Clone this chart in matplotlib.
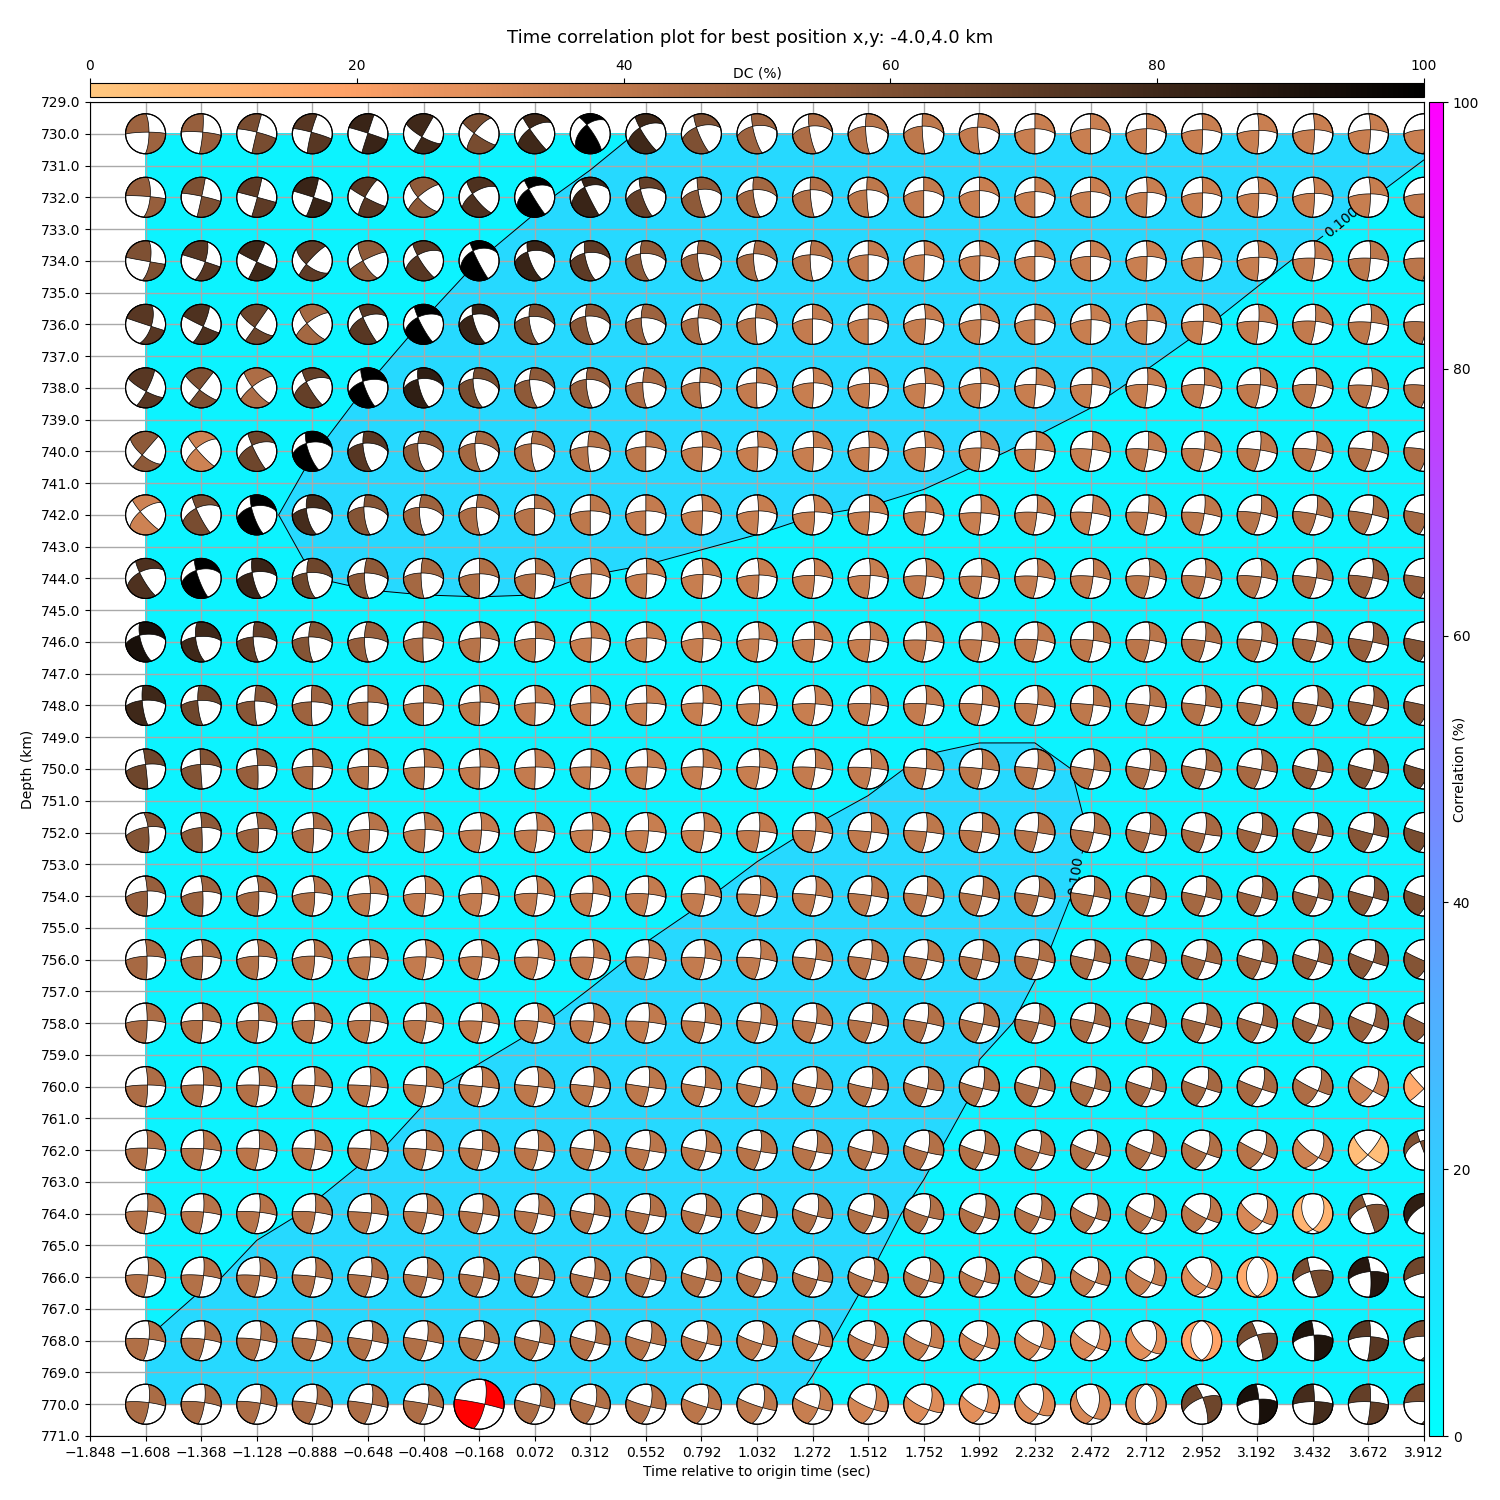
import numpy as np
import matplotlib
matplotlib.use("Agg")
import matplotlib.pyplot as plt
from matplotlib.patches import Ellipse, Polygon

# time shift columns and depth rows of the grid search
times = [-1.608, -1.368, -1.128, -0.888, -0.648, -0.408, -0.168, 0.072, 0.312, 0.552, 0.792, 1.032,
         1.272, 1.512, 1.752, 1.992, 2.232, 2.472, 2.712, 2.952, 3.192, 3.432, 3.672, 3.912]
depths = [730, 732, 734, 736, 738, 740, 742, 744, 746, 748, 750, 752, 754, 756, 758, 760, 762, 764, 766, 768, 770]
best_row, best_col = 20, 6

# where the two nodal lines cross inside each ball, in percent of the radius
null_x = [
    [17, 8, 0, -5, 0, -8, -25, -25, -17, -30, -25, -22, -18, -13, -8, -8, 0, 0, 3, 5, 8, 8, 10, 12],
    [23, 3, 3, 6, -15, -28, -33, -30, -28, -27, -17, -20, -12, -7, 0, 0, 0, 0, 5, 5, 8, 8, 10, 10],
    [23, 20, 0, -30, -25, -30, -30, -35, -28, -27, -20, -17, -12, 0, 3, 3, 0, 0, 5, 8, 8, 10, 10, 12],
    [28, 10, -10, -27, -25, -28, -33, -28, -23, -23, -17, -7, 0, 0, 8, 8, 0, 3, 5, 8, 8, 13, 13, 13],
    [3, -8, -23, -30, -25, -28, -30, -25, -20, -15, -8, -3, 5, 7, 8, 8, 5, 7, 8, 13, 15, 17, 17, 18],
    [-17, -25, -23, -30, -25, -28, -20, -17, -12, 0, 5, 5, 5, 5, 8, 8, 5, 7, 10, 13, 15, 17, 17, 18],
    [-27, -25, -27, -30, -20, -20, -13, 0, 0, 0, 5, 7, 10, 7, 10, 8, 10, 7, 10, 13, 17, 17, 18, 18],
    [-30, -25, -23, -27, -17, -12, 3, 5, 5, 5, 8, 10, 10, 10, 12, 12, 13, 13, 17, 18, 20, 17, 20, 20],
    [-30, -28, -18, -18, -17, -3, 7, 5, 5, 5, 8, 10, 10, 10, 12, 12, 13, 13, 17, 18, 20, 17, 20, 20],
    [-17, -17, -10, -5, 0, 0, 5, 3, 3, 5, 8, 13, 13, 12, 12, 13, 13, 13, 17, 18, 20, 22, 22, 22],
    [0, -3, 5, 3, 3, 5, 5, 3, 3, 7, 8, 13, 13, 15, 12, 13, 13, 15, 17, 18, 20, 22, 22, 22],
    [12, 3, 7, 7, 8, 8, 12, 12, 13, 13, 13, 13, 15, 15, 15, 13, 13, 15, 17, 18, 20, 22, 22, 22],
    [8, 8, 10, 12, 12, 10, 15, 13, 13, 13, 17, 17, 15, 15, 15, 13, 17, 15, 17, 18, 20, 22, 22, 22],
    [7, 8, 10, 12, 12, 13, 15, 17, 17, 15, 17, 17, 15, 15, 17, 13, 17, 15, 17, 18, 20, 22, 22, 22],
    [8, 8, 10, 12, 12, 13, 15, 17, 17, 15, 17, 17, 18, 18, 17, 17, 18, 15, 17, 18, 20, 22, 22, 25],
    [10, 12, 12, 12, 13, 13, 15, 17, 17, 15, 17, 18, 18, 18, 17, 17, 18, 18, 22, 22, 23, 25, 22, 0],
    [10, 12, 12, 12, 13, 13, 15, 17, 17, 18, 20, 18, 18, 18, 20, 20, 22, 22, 22, 25, 28, 28, -3, -20],
    [10, 12, 15, 15, 17, 17, 17, 17, 17, 18, 20, 22, 22, 23, 23, 22, 22, 23, 25, 25, 25, 0, -12, 50],
    [12, 12, 15, 15, 17, 17, 20, 20, 18, 18, 20, 22, 23, 23, 23, 22, 22, 23, 25, 25, 0, -13, 10, 45],
    [17, 17, 18, 20, 20, 18, 23, 22, 22, 22, 25, 25, 27, 27, 25, 25, 25, 27, 27, 0, 0, 5, 10, 40],
    [17, 17, 18, 20, 20, 22, 23, 25, 25, 23, 28, 28, 27, 27, 25, 25, 18, 13, 0, 5, 8, 8, 10, 30],
]
null_y = [
    [8, 8, 8, 8, 3, -15, 3, 25, 45, 30, 33, 37, 37, 37, 38, 33, 25, 25, 25, 20, 17, 20, 20, 20],
    [3, 5, 0, 0, 0, 0, 18, 42, 50, 40, 37, 37, 37, 37, 33, 33, 28, 28, 25, 22, 20, 20, 17, 17],
    [-5, -5, -5, -17, 0, 27, 50, 45, 38, 35, 35, 35, 30, 30, 30, 25, 22, 22, 22, 18, 18, 13, 13, 13],
    [-10, -10, -15, 5, 35, 35, 47, 38, 40, 32, 32, 32, 27, 27, 27, 23, 23, 23, 20, 15, 15, 15, 10, 10],
    [-18, -10, 5, 30, 32, 43, 45, 40, 42, 28, 28, 25, 25, 22, 22, 22, 17, 17, 17, 15, 15, 15, 10, 10],
    [-18, 15, 30, 40, 40, 40, 40, 38, 23, 23, 22, 22, 20, 20, 20, 17, 10, 10, 10, 10, 7, 7, 7, 7],
    [17, 33, 40, 33, 40, 38, 38, 33, 20, 20, 20, 20, 15, 15, 15, 10, 12, 10, 10, 7, 7, 3, 2, 0],
    [30, 40, 30, 28, 27, 27, 23, 23, 23, 23, 20, 17, 15, 15, 12, 10, 10, 10, 10, 7, 7, 3, 3, 0],
    [33, 25, 25, 25, 22, 20, 20, 17, 20, 20, 17, 15, 13, 12, 8, 8, 10, 8, 8, 5, 5, 3, 0, -3],
    [25, 25, 22, 18, 17, 13, 17, 13, 13, 12, 12, 8, 8, 8, 8, 5, 5, 3, 0, 0, 0, 0, 0, -3],
    [23, 23, 18, 13, 13, 10, 10, 10, 10, 10, 10, 10, 7, 5, 2, 2, 2, -3, -3, -3, -3, -7, -7, -10],
    [28, 25, 20, 20, 15, 15, 12, 12, 12, 8, 8, 7, 7, 3, 3, 3, 0, 0, -5, -8, -8, -8, -8, -10],
    [25, 22, 22, 17, 13, 13, 13, 13, 13, 10, 8, 5, 5, 2, 2, 0, 0, 0, -3, -3, -7, -7, -7, -10],
    [17, 17, 17, 17, 13, 13, 13, 10, 10, 10, 8, 5, 2, 2, 0, 0, 0, -3, -3, -7, -8, -8, -12, -15],
    [13, 13, 13, 13, 12, 10, 8, 8, 7, 5, 3, 0, 0, 0, 0, -5, 0, 0, -3, -5, -8, -13, -12, -15],
    [8, 8, 7, 5, 3, 3, 0, 0, 0, -3, -3, -5, -7, -8, -10, -10, -7, -8, -10, -10, -13, -20, -22, -10],
    [10, 7, 7, 5, 5, 3, 2, 0, 0, -3, -5, -7, -8, -10, -12, -13, -13, -15, -15, -18, -18, -37, -23, 43],
    [12, 8, 7, 7, 3, 3, 0, 0, -3, -5, -8, -10, -13, -13, -17, -17, -18, -22, -22, -25, -38, -78, 37, 55],
    [10, 8, 7, 3, 3, 0, 0, -5, -5, -8, -10, -13, -13, -17, -18, -20, -22, -25, -27, -47, -95, 28, 28, 25],
    [8, 7, 5, 3, 0, 0, 0, -7, -8, -10, -13, -17, -18, -22, -25, -27, -30, -33, -55, -97, 28, 28, 20, 20],
    [8, 8, 5, 3, 0, 0, 0, -7, -10, -13, -15, -17, -20, -25, -28, -33, -48, -67, -98, 33, 25, 13, 12, 10],
]
# azimuth (deg, clockwise from north) of the nodal arm that opens the filled quadrant
arm_az = [
    [-90, -85, -76, -75, -72, -60, -54, -35, -38, -30, -20, -12, -8, -2, -2, 0, 0, 0, 0, 0, 0, 0, 0, 0],
    [-85, -78, -75, -72, -62, -42, -35, -30, -25, -15, -10, -5, -3, -1, 0, 0, 0, 0, 0, 0, 0, 0, 0, 0],
    [-80, -72, -65, -50, -28, -30, -25, -15, -10, -5, -3, 0, 0, 0, 0, 0, 0, 0, 0, 0, 0, 3, 3, 3],
    [-72, -65, -55, -38, -25, -25, -12, -5, -5, -2, 0, 0, 0, 0, 0, 0, 0, 0, 0, 3, 3, 5, 5, 6],
    [-62, -52, -38, -28, -18, -10, -3, -3, -2, 0, 0, 0, 0, 0, 0, 0, 3, 3, 3, 5, 5, 6, 7, 8],
    [-50, -40, -25, -15, -5, 0, 0, 0, 0, 0, 0, 0, 0, 0, 0, 2, 3, 6, 6, 7, 8, 9, 10, 11],
    [-40, -25, -15, -7, -2, 0, 0, 0, 0, 0, 0, 0, 0, 2, 3, 3, 5, 7, 7, 8, 10, 11, 12, 13],
    [-27, -17, -10, -5, 0, 0, 0, 0, 0, 0, 0, 0, 2, 2, 4, 4, 5, 6, 6, 8, 8, 9, 10, 11],
    [-12, -7, -3, 0, 0, 0, 0, 0, 0, 0, 0, 2, 2, 3, 4, 5, 6, 6, 6, 8, 9, 10, 11, 12],
    [-5, -3, 0, 0, 0, 0, 0, 0, 0, 0, 2, 2, 3, 4, 4, 6, 6, 6, 7, 8, 10, 10, 12, 13],
    [-7, -3, -3, 0, 0, 0, 0, 0, 2, 2, 3, 4, 5, 5, 6, 6, 7, 8, 9, 10, 10, 11, 13, 14],
    [-8, -3, -3, 0, 0, 0, 2, 2, 2, 3, 4, 4, 5, 6, 6, 7, 8, 9, 10, 10, 12, 12, 14, 15],
    [-3, -3, -2, 0, 0, 2, 2, 3, 4, 5, 6, 6, 7, 8, 9, 10, 10, 10, 11, 12, 13, 14, 15, 17],
    [-2, 0, 0, 2, 2, 3, 4, 5, 5, 6, 6, 7, 8, 9, 10, 10, 11, 12, 13, 14, 14, 16, 19, 22],
    [0, 2, 2, 3, 4, 5, 5, 6, 6, 6, 7, 8, 9, 10, 11, 12, 12, 13, 14, 14, 16, 18, 21, 25],
    [0, 2, 3, 4, 5, 6, 6, 6, 7, 8, 9, 10, 10, 10, 12, 13, 14, 15, 16, 18, 19, 24, 30, 45],
    [2, 4, 5, 6, 6, 6, 7, 7, 8, 9, 10, 10, 11, 12, 14, 15, 16, 18, 20, 22, 25, 32, 42, 70],
    [4, 5, 6, 6, 6, 7, 8, 9, 10, 10, 11, 12, 14, 14, 16, 17, 18, 20, 22, 25, 30, 45, 70, 75],
    [5, 6, 6, 7, 8, 9, 10, 10, 11, 12, 13, 14, 14, 16, 17, 18, 20, 22, 24, 30, 45, 75, 85, 85],
    [6, 7, 8, 9, 10, 10, 11, 12, 13, 14, 14, 16, 17, 18, 20, 22, 23, 26, 30, 45, 72, 85, 92, 95],
    [7, 8, 9, 10, 10, 11, 12, 13, 14, 14, 16, 17, 18, 20, 22, 24, 26, 30, 45, 70, 85, 90, 93, 95],
]
dc = [
    [50, 52, 62, 72, 82, 80, 62, 80, 100, 80, 60, 50, 45, 42, 40, 38, 36, 36, 36, 36, 36, 36, 36, 36],
    [52, 60, 70, 82, 72, 55, 75, 100, 82, 68, 55, 48, 43, 40, 38, 36, 36, 36, 36, 36, 36, 36, 37, 38],
    [60, 72, 80, 70, 55, 72, 100, 82, 70, 55, 50, 46, 42, 38, 36, 36, 36, 36, 36, 37, 37, 38, 40, 41],
    [72, 75, 65, 48, 72, 100, 82, 62, 57, 50, 46, 42, 38, 37, 37, 37, 37, 37, 37, 37, 38, 39, 40, 43],
    [72, 60, 45, 68, 100, 85, 62, 55, 52, 45, 42, 38, 37, 37, 37, 37, 37, 37, 37, 38, 39, 40, 41, 43],
    [55, 35, 65, 100, 72, 55, 48, 44, 42, 40, 38, 37, 37, 37, 37, 37, 37, 37, 38, 39, 40, 41, 43, 45],
    [35, 62, 100, 78, 58, 50, 45, 42, 40, 38, 37, 37, 37, 37, 37, 37, 38, 38, 39, 40, 42, 43, 46, 48],
    [75, 100, 82, 65, 55, 48, 44, 42, 38, 37, 37, 37, 37, 37, 38, 38, 38, 39, 40, 41, 42, 45, 50, 52],
    [92, 80, 68, 58, 52, 45, 42, 40, 37, 37, 37, 37, 37, 37, 38, 38, 39, 40, 41, 43, 44, 47, 52, 58],
    [80, 65, 57, 50, 45, 42, 40, 38, 37, 37, 37, 37, 37, 38, 38, 38, 39, 40, 42, 43, 45, 48, 52, 57],
    [65, 58, 52, 45, 42, 40, 38, 38, 37, 37, 37, 37, 38, 38, 39, 40, 41, 42, 44, 46, 47, 52, 57, 62],
    [58, 55, 50, 45, 42, 40, 38, 38, 37, 37, 37, 38, 38, 39, 40, 41, 42, 43, 45, 47, 50, 52, 57, 62],
    [52, 50, 47, 43, 40, 38, 38, 38, 38, 38, 38, 38, 39, 40, 41, 42, 43, 44, 46, 48, 50, 52, 57, 62],
    [47, 45, 43, 42, 40, 38, 38, 38, 38, 38, 38, 39, 40, 41, 42, 43, 44, 46, 47, 48, 50, 52, 56, 58],
    [45, 44, 43, 42, 41, 40, 39, 39, 39, 39, 40, 40, 41, 42, 43, 44, 45, 46, 47, 48, 49, 50, 52, 54],
    [45, 44, 43, 42, 41, 40, 40, 40, 40, 40, 40, 41, 41, 42, 43, 44, 45, 46, 47, 48, 47, 45, 35, 15],
    [43, 42, 41, 41, 41, 41, 41, 41, 41, 41, 41, 42, 42, 42, 43, 43, 43, 44, 44, 44, 42, 35, 5, 60],
    [42, 42, 42, 42, 42, 42, 42, 42, 43, 43, 43, 44, 44, 44, 44, 44, 43, 43, 42, 41, 32, 10, 58, 85],
    [42, 43, 43, 43, 43, 43, 43, 43, 43, 43, 43, 43, 43, 42, 42, 41, 40, 39, 37, 30, 15, 62, 88, 65],
    [44, 44, 44, 44, 44, 44, 44, 44, 43, 42, 41, 40, 39, 38, 37, 34, 33, 31, 28, 18, 62, 90, 72, 62],
    [46, 46, 45, 45, 45, 45, 45, 45, 44, 43, 41, 40, 37, 33, 30, 28, 30, 32, 32, 65, 92, 78, 68, 62],
]
# correlation in units of 0.0001
corr = [
    [800, 800, 800, 800, 800, 800, 800, 800, 900, 1025, 1200, 1200, 1200, 1200, 1200, 1200, 1200, 1200, 1200, 1200, 1200, 1200, 1200, 1100],
    [800, 800, 800, 800, 800, 800, 800, 965, 1075, 1200, 1200, 1200, 1200, 1200, 1200, 1200, 1200, 1200, 1200, 1200, 1200, 1100, 1016, 856],
    [800, 800, 800, 800, 800, 900, 1002, 1100, 1200, 1200, 1200, 1200, 1200, 1200, 1200, 1200, 1200, 1200, 1200, 1200, 1055, 963, 800, 800],
    [800, 800, 800, 800, 900, 1008, 1200, 1200, 1200, 1200, 1200, 1200, 1200, 1200, 1200, 1200, 1200, 1200, 1100, 1014, 921, 800, 800, 800],
    [800, 800, 800, 900, 1006, 1200, 1200, 1200, 1200, 1200, 1200, 1200, 1200, 1200, 1200, 1200, 1100, 1046, 961, 874, 800, 800, 800, 800],
    [800, 800, 800, 997, 1035, 1200, 1200, 1200, 1200, 1200, 1200, 1200, 1200, 1100, 1100, 1030, 970, 902, 800, 800, 800, 800, 800, 800],
    [800, 800, 974, 1040, 1200, 1200, 1200, 1200, 1100, 1100, 1100, 1050, 1002, 985, 933, 880, 800, 800, 800, 800, 800, 800, 800, 800],
    [800, 800, 800, 998, 1020, 1040, 1040, 1020, 995, 973, 918, 889, 900, 800, 800, 800, 800, 800, 800, 800, 800, 800, 800, 800],
    [800, 800, 800, 800, 909, 886, 902, 943, 800, 800, 800, 800, 800, 800, 800, 800, 800, 800, 800, 800, 800, 800, 800, 800],
    [800, 800, 800, 800, 800, 800, 800, 800, 800, 800, 800, 800, 800, 800, 858, 856, 914, 800, 800, 800, 800, 800, 800, 800],
    [800, 800, 800, 800, 800, 800, 800, 800, 800, 800, 800, 800, 900, 928, 1040, 1100, 1060, 968, 800, 800, 800, 800, 800, 800],
    [800, 800, 800, 800, 800, 800, 800, 800, 800, 800, 800, 942, 1011, 1100, 1200, 1200, 1100, 994, 800, 800, 800, 800, 800, 800],
    [800, 800, 800, 800, 800, 800, 800, 800, 800, 892, 985, 1068, 1200, 1200, 1200, 1200, 1060, 968, 800, 800, 800, 800, 800, 800],
    [800, 800, 800, 800, 800, 800, 800, 800, 926, 1040, 1100, 1200, 1200, 1200, 1200, 1200, 1010, 960, 800, 800, 800, 800, 800, 800],
    [800, 800, 800, 800, 800, 800, 929, 980, 1090, 1200, 1200, 1200, 1200, 1200, 1200, 1030, 980, 800, 800, 800, 800, 800, 800, 800],
    [800, 800, 800, 800, 800, 983, 1040, 1150, 1200, 1200, 1200, 1200, 1200, 1200, 1300, 978, 800, 800, 800, 800, 800, 800, 800, 800],
    [800, 800, 800, 895, 986, 1042, 1200, 1200, 1200, 1200, 1200, 1200, 1200, 1200, 1020, 953, 800, 800, 800, 800, 800, 800, 800, 800],
    [800, 800, 929, 1020, 1094, 1200, 1200, 1200, 1200, 1200, 1200, 1200, 1200, 1034, 977, 800, 800, 800, 800, 800, 800, 800, 800, 800],
    [900, 942, 1098, 1200, 1200, 1200, 1200, 1200, 1200, 1200, 1200, 1200, 1200, 1001, 900, 800, 800, 800, 800, 800, 800, 800, 800, 800],
    [1002, 1220, 1200, 1200, 1200, 1200, 1200, 1200, 1200, 1200, 1200, 1200, 1056, 900, 800, 800, 800, 800, 800, 800, 800, 800, 800, 800],
    [1100, 1100, 1100, 1100, 1100, 1100, 1100, 1100, 1100, 1100, 1100, 1085, 954, 800, 800, 800, 800, 800, 800, 800, 800, 800, 800, 800],
]


def arm_points(n, a):
    # half great circle from the null axis n along a, stops on the rim
    t_end = np.arctan2(n[2], -a[2])
    t = np.linspace(0, t_end, 30)
    p = np.outer(np.cos(t), n) + np.outer(np.sin(t), a)
    f = np.sqrt(1 + np.clip(p[:, 2], 0, 1))
    return p[:, 0] / f, p[:, 1] / f


def quadrants(cx, cy, az_deg):
    r = min(np.hypot(cx, cy), 0.985)
    th = 2 * np.arcsin(r / np.sqrt(2))
    az = np.arctan2(cx, cy)
    n = np.array([np.sin(th) * np.sin(az), np.sin(th) * np.cos(az), np.cos(th)])
    e_t = np.array([np.cos(th) * np.sin(az), np.cos(th) * np.cos(az), -np.sin(th)])
    e_a = np.array([np.cos(az), -np.sin(az), 0.0])
    d = np.radians(az_deg) - az
    u = np.cos(d) * e_t + np.sin(d) * e_a
    v = -np.sin(d) * e_t + np.cos(d) * e_a
    out = []
    for a, b in ((u, v), (-u, -v)):
        xa, ya = arm_points(n, a)
        xb, yb = arm_points(n, b)
        az1 = np.arctan2(xa[-1], ya[-1])
        az2 = np.arctan2(xb[-1], yb[-1])
        rim = np.linspace(az1, az1 + (az2 - az1) % (2 * np.pi), 40)
        x = np.concatenate([xa, np.sin(rim), xb[::-1]])
        y = np.concatenate([ya, np.cos(rim), yb[::-1]])
        out.append(np.column_stack([x, y]))
    return out


fig = plt.figure(figsize=(15, 15), dpi=100)
ax = fig.add_axes([90 / 1500, 1 - 1436 / 1500, 1334 / 1500, 1334 / 1500])
cax_top = fig.add_axes([90 / 1500, 1 - 97 / 1500, 1334 / 1500, 14 / 1500])
cax_right = fig.add_axes([1429 / 1500, 1 - 1436 / 1500, 14 / 1500, 1334 / 1500])

T, Z = np.meshgrid(times, depths)
corr_frac = np.array(corr) / 10000.0
cool = plt.get_cmap("cool")
copper = plt.get_cmap("copper_r")
ax.contourf(T, Z, corr_frac * 100, levels=np.arange(0, 101, 10), cmap=cool, vmin=0, vmax=100)
cs = ax.contour(T, Z, corr_frac, levels=[0.1], colors="k", linewidths=0.7)
labels = ax.clabel(cs, fmt="%.3f", fontsize=10, inline=True, manual=[(3.545, 732.65), (2.388, 753.34)])
# the y axis is inverted, so the label angles are set by hand
for lab, angle in zip(labels, [40, 82]):
    lab.set_transform_rotates_text(False)
    lab.set_rotation(angle)

# one pixel of the axes in data units, so that the balls stay round
rx = 5.76 / 1334
ry = 42 / 1334
for i, z in enumerate(depths):
    for j, t in enumerate(times):
        best = i == best_row and j == best_col
        R = 25 if best else 20
        col = "red" if best else copper(dc[i][j] / 100)
        ax.add_patch(Ellipse((t, z), 2 * R * rx, 2 * R * ry, fc="white", ec="k", lw=0.8, zorder=5))
        for q in quadrants(null_x[i][j] / 100, null_y[i][j] / 100, arm_az[i][j]):
            xy = np.column_stack([t + q[:, 0] * R * rx, z - q[:, 1] * R * ry])
            ax.add_patch(Polygon(xy, closed=True, fc=col, ec="k", lw=0.5, zorder=6))
        ax.add_patch(Ellipse((t, z), 2 * R * rx, 2 * R * ry, fc="none", ec="k", lw=0.8, zorder=7))

xticks = [-1.848] + times
yticks = list(range(729, 772))
ax.set_xlim(-1.848, 3.912)
ax.set_ylim(771, 729)
ax.set_xticks(xticks)
ax.set_xticklabels([f"{v:.3f}".replace("-", "\u2212") for v in xticks])
ax.set_yticks(yticks)
ax.set_yticklabels([f"{v:.1f}" for v in yticks])
ax.grid(True, color="darkgrey", lw=1.0)
ax.set_xlabel("Time relative to origin time (sec)")
ax.set_ylabel("Depth (km)")

sm_dc = plt.cm.ScalarMappable(norm=plt.Normalize(0, 100), cmap=copper)
cb1 = fig.colorbar(sm_dc, cax=cax_top, orientation="horizontal")
cax_top.xaxis.set_ticks_position("top")
cax_top.xaxis.set_label_position("top")
cb1.set_label("DC (%)", labelpad=-13)

sm_corr = plt.cm.ScalarMappable(norm=plt.Normalize(0, 100), cmap=cool)
cb2 = fig.colorbar(sm_corr, cax=cax_right)
cb2.set_label("Correlation (%)", labelpad=-19.5)

fig.text(0.5, 1 - 38 / 1500, "Time correlation plot for best position x,y: -4.0,4.0 km",
         ha="center", va="center", fontsize=13)

fig.savefig("out.png", dpi=100)
